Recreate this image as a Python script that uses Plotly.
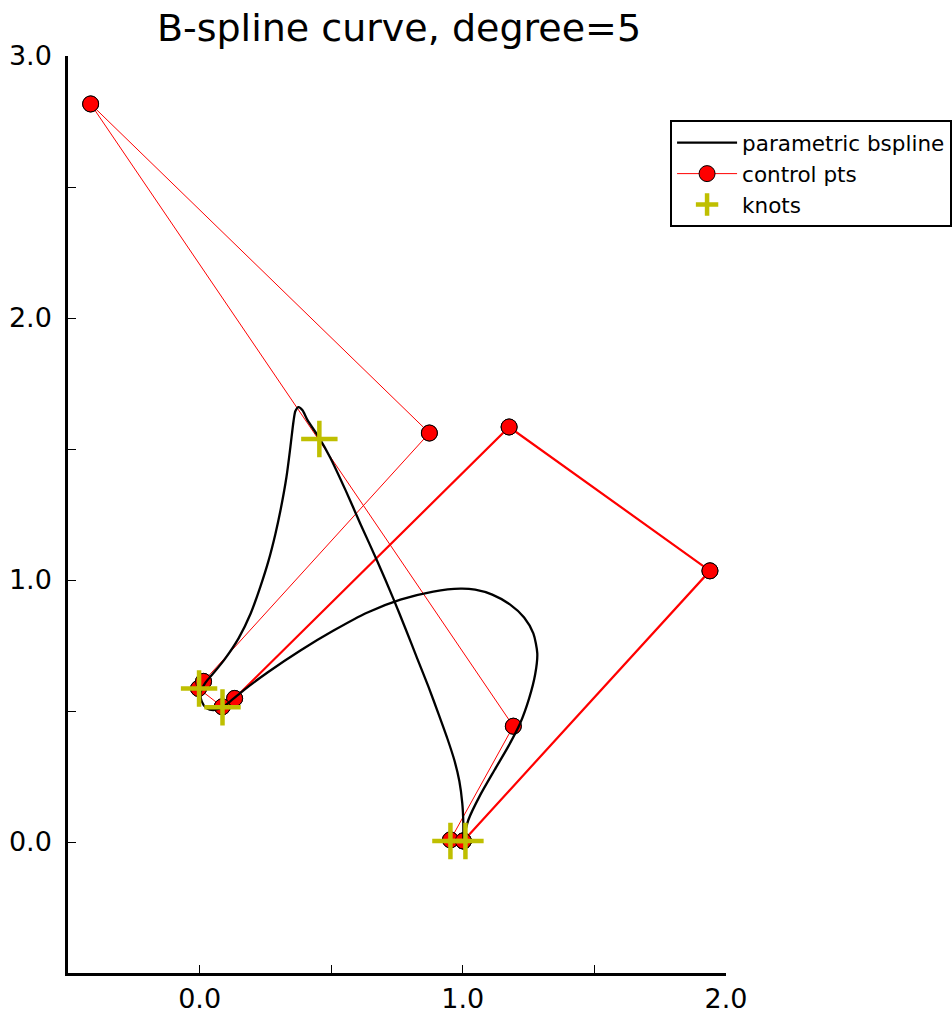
import plotly.graph_objects as go

# ---- data ----
# parametric B-spline curve samples (closed loop, starting at the bottom knot)
curve_x = [1.000, 1.021, 1.066, 1.120, 1.173, 1.218, 1.252, 1.275, 1.283, 1.268,
           1.233, 1.180, 1.112, 1.047, 0.991, 0.888, 0.763, 0.638, 0.509, 0.383,
           0.258, 0.167, 0.125, 0.087, 0.053, 0.027, 0.008, 0.004, 0.023, 0.049,
           0.095, 0.148, 0.194, 0.231, 0.262, 0.288, 0.307, 0.330, 0.345, 0.357,
           0.364, 0.376, 0.391, 0.410, 0.452, 0.497, 0.554, 0.611, 0.676, 0.736,
           0.782, 0.827, 0.869, 0.907, 0.941, 0.968, 0.987, 0.998, 1.002, 1.002]
curve_y = [0.000, 0.084, 0.179, 0.274, 0.365, 0.453, 0.548, 0.640, 0.720, 0.796,
           0.857, 0.906, 0.944, 0.963, 0.967, 0.956, 0.925, 0.876, 0.807, 0.731,
           0.647, 0.579, 0.544, 0.514, 0.503, 0.510, 0.537, 0.571, 0.609, 0.640,
           0.697, 0.777, 0.872, 0.975, 1.074, 1.176, 1.264, 1.393, 1.508, 1.607,
           1.645, 1.660, 1.648, 1.610, 1.546, 1.466, 1.344, 1.214, 1.070, 0.929,
           0.815, 0.700, 0.594, 0.491, 0.396, 0.312, 0.232, 0.148, 0.072, 0.004]

# control points (in polygon order)
ctrl_x = [1.002, 1.939, 1.176, 0.133, 0.086, -0.004, 0.015, 0.873, -0.414, 1.192, 0.953, 1.002]
ctrl_y = [0.004, 1.035, 1.584, 0.548, 0.516, 0.586, 0.613, 1.561, 2.817, 0.442, 0.008, 0.004]
# the control polygon wraps around: these first points are traversed a second time
wrap_count = 4

# knots on the curve
knot_x = [-0.002, 0.087, 0.455, 0.953, 1.010]
knot_y = [0.586, 0.514, 1.538, 0.004, 0.004]

# axes
x_range = [-0.5, 2.0]
y_range = [-0.5, 3.0]
x_tickvals = [0.0, 0.5, 1.0, 1.5, 2.0]
x_ticktext = ["0.0", "", "1.0", "", "2.0"]
y_tickvals = [0.0, 0.5, 1.0, 1.5, 2.0, 2.5, 3.0]
y_ticktext = ["0.0", "", "1.0", "", "2.0", "", "3.0"]

title = "B-spline curve, degree=5"

FONT = "DejaVu Sans"
KNOT_COLOR = "#bfbf00"

fig = go.Figure()

# control polygon (thin, full loop)
fig.add_trace(go.Scatter(
    x=ctrl_x, y=ctrl_y, mode="lines+markers", name="control pts",
    line=dict(color="red", width=1),
    marker=dict(color="red", size=16, line=dict(color="black", width=1)),
    legendrank=2,
))
# repeated (wrap-around) segments of the control polygon
fig.add_trace(go.Scatter(
    x=ctrl_x[-1:] + ctrl_x[1:wrap_count], y=ctrl_y[-1:] + ctrl_y[1:wrap_count],
    mode="lines", line=dict(color="red", width=2.2),
    showlegend=False, hoverinfo="skip",
))
# re-draw markers on top of the doubled segments
fig.add_trace(go.Scatter(
    x=ctrl_x, y=ctrl_y, mode="markers",
    marker=dict(color="red", size=16, line=dict(color="black", width=1)),
    showlegend=False, hoverinfo="skip",
))

# curve
fig.add_trace(go.Scatter(
    x=curve_x, y=curve_y, mode="lines", name="parametric bspline",
    line=dict(color="black", width=2.3, shape="spline", smoothing=0.7),
    legendrank=1,
))

# knots
fig.add_trace(go.Scatter(
    x=knot_x, y=knot_y, mode="markers", name="knots",
    marker=dict(symbol="cross-thin", size=26, color=KNOT_COLOR,
                line=dict(color=KNOT_COLOR, width=4.5)),
    legendrank=3,
))

axis_common = dict(
    showgrid=False, zeroline=False, showline=True, linecolor="black", linewidth=2.5,
    ticks="inside", ticklen=8, tickwidth=1, tickcolor="black",
    tickfont=dict(family=FONT, size=27, color="black"),
    mirror=False, automargin=False,
)

fig.update_layout(
    width=952, height=1014,
    margin=dict(l=68, r=226, t=56, b=41, autoexpand=False),
    paper_bgcolor="white", plot_bgcolor="white",
    title=dict(text=title, x=399 / 952, xanchor="center",
               y=1 - 28 / 1014, yanchor="middle",
               font=dict(family=FONT, size=38, color="black")),
    xaxis=dict(range=x_range, tickmode="array", tickvals=x_tickvals, ticktext=x_ticktext,
               ticklabelstandoff=0, **axis_common),
    yaxis=dict(range=y_range, tickmode="array", tickvals=y_tickvals, ticktext=y_ticktext,
               ticklabelstandoff=8, **axis_common),
    legend=dict(x=0.915, y=0.93, xanchor="left", yanchor="top",
                bgcolor="white", bordercolor="black", borderwidth=2,
                font=dict(family=FONT, size=21.5, color="black"),
                itemwidth=60, tracegroupgap=0),
    showlegend=True,
)

fig.write_html("out.html")
